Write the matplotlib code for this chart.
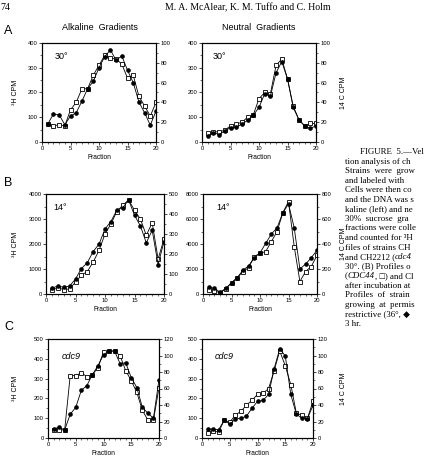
import numpy as np
import matplotlib
matplotlib.use('Agg')
import matplotlib.pyplot as plt
from matplotlib.ticker import AutoMinorLocator, MultipleLocator

plt.rcParams['font.family'] = ['Liberation Sans', 'DejaVu Sans']

fractions = list(range(1, 21))

# panel A, 30 deg (open = CDC44, filled = cdc44)
alk_a_open = [72, 65, 70, 65, 130, 160, 215, 215, 270, 310, 350, 340, 335, 315, 258, 270, 185, 145, 105, 160]
alk_a_fill = [72, 113, 110, 70, 105, 118, 165, 215, 245, 300, 345, 372, 330, 348, 290, 240, 162, 118, 68, 125]
neu_a_open = [35, 42, 40, 48, 65, 72, 80, 100, 110, 175, 200, 195, 310, 335, 255, 145, 90, 65, 75, 75]
neu_a_fill = [25, 38, 30, 45, 58, 60, 72, 88, 108, 140, 195, 185, 280, 325, 255, 140, 90, 65, 55, 65]

# panel B, 14 deg
alk_b_open = [150, 250, 180, 200, 480, 750, 900, 1280, 1750, 2400, 2800, 3300, 3550, 3760, 3350, 3000, 2350, 2850, 1400, 2200]
alk_b_fill = [230, 320, 270, 320, 600, 1020, 1250, 1700, 2000, 2600, 2900, 3350, 3450, 3760, 3150, 2720, 2050, 2550, 1180, 2100]
neu_b_open = [300, 250, 100, 400, 900, 1300, 1800, 2100, 3000, 3250, 3400, 4200, 5000, 6500, 7400, 3800, 1000, 1800, 2200, 3100]
neu_b_fill = [550, 450, 150, 450, 900, 1300, 1900, 2250, 2900, 3300, 4050, 4800, 5300, 6500, 7200, 5300, 2000, 2400, 2900, 3500]

# panel C, cdc9
alk_c_open = [40, 42, 40, 315, 315, 330, 310, 320, 355, 435, 440, 440, 415, 340, 290, 230, 140, 90, 90, 255]
alk_c_fill = [45, 55, 40, 120, 155, 240, 265, 320, 365, 420, 440, 438, 375, 380, 305, 255, 155, 125, 100, 295]
neu_c_open = [25, 35, 30, 90, 80, 115, 135, 165, 190, 220, 225, 250, 340, 440, 365, 270, 125, 115, 100, 185]
neu_c_fill = [45, 45, 42, 90, 70, 95, 100, 110, 150, 185, 190, 220, 350, 450, 415, 220, 120, 100, 98, 165]

caption_lines = [
    'FIGURE  5.—Vel', 'tion analysis of ch', 'Strains  were  grow', 'and labeled with',
    'Cells were then co', 'and the DNA was s', 'kaline (left) and ne', '30%  sucrose  gra',
    'fractions were colle', 'and counted for ³H', 'files of strains CH', 'and CH2212 (|cdc4',
    '30°. (B) Profiles o', '(|CDC44|, □) and Cl', 'after incubation at', 'Profiles  of  strain',
    'growing  at  permis', 'restrictive (36°, ◆', '3 hr.',
]

W, H = 428, 462
fig = plt.figure(figsize=(W / 100, H / 100), dpi=100)


def box(x0, y0, x1, y1):
    return [x0 / W, 1 - y1 / H, (x1 - x0) / W, (y1 - y0) / H]


panels = [
    ((42, 43, 156, 142), alk_a_open, alk_a_fill, 400, 100, 100, 20, '30°', (0.17, 0.86), 'left'),
    ((202, 43, 316, 142), neu_a_open, neu_a_fill, 400, 100, 100, 20, '30°', (0.15, 0.86), 'right'),
    ((46, 194, 164, 294), alk_b_open, alk_b_fill, 4000, 1000, 500, 100, '14°', (0.12, 0.87), 'left'),
    ((203, 194, 317, 294), neu_b_open, neu_b_fill, 8000, 2000, 800, 200, '14°', (0.18, 0.87), 'right'),
    ((48, 339, 159, 438), alk_c_open, alk_c_fill, 500, 100, 120, 20, 'cdc9', (0.21, 0.82), 'left'),
    ((202, 339, 313, 438), neu_c_open, neu_c_fill, 500, 100, 120, 20, 'cdc9', (0.2, 0.82), 'right'),
]

tick_kw = dict(labelsize=4.2, direction='out', width=0.5, pad=1.0)

for px, y_open, y_fill, ymax, ystep, rmax, rstep, tag, tagpos, side in panels:
    ax = fig.add_axes(box(*px))
    ax.plot(fractions, y_open, '-', color='black', lw=0.6, marker='s', ms=3,
            mfc='white', mec='black', mew=0.6, zorder=3)
    ax.plot(fractions, y_fill, '-', color='black', lw=0.6, marker='o', ms=2.3,
            mfc='black', mec='black', zorder=4)
    ax.set_xlim(0, 20)
    ax.set_ylim(0, ymax)
    ax.xaxis.set_major_locator(MultipleLocator(5))
    ax.xaxis.set_minor_locator(MultipleLocator(1))
    ax.yaxis.set_major_locator(MultipleLocator(ystep))
    ax.yaxis.set_minor_locator(AutoMinorLocator(2))
    ax.tick_params(which='major', length=2.2, **tick_kw)
    ax.tick_params(which='minor', length=1.2, width=0.4, direction='out')
    for s in ax.spines.values():
        s.set_linewidth(0.8)
    ax.set_xlabel('Fraction', fontsize=4.8, labelpad=2)
    style = 'italic' if tag == 'cdc9' else 'normal'
    ax.text(tagpos[0], tagpos[1], tag, transform=ax.transAxes, fontsize=6.5,
            ha='center', va='center', fontstyle=style)
    if side == 'left':
        ax.set_ylabel('³H CPM', fontsize=5)
        ax.yaxis.set_label_coords((19 - px[0]) / (px[2] - px[0]), 0.5)

    rax = ax.twinx()
    rax.set_ylim(0, rmax)
    rax.yaxis.set_major_locator(MultipleLocator(rstep))
    rax.yaxis.set_minor_locator(AutoMinorLocator(2))
    rax.tick_params(which='major', length=2.2, **tick_kw)
    rax.tick_params(which='minor', length=1.2, width=0.4, direction='out')
    if side == 'right':
        rax.set_ylabel('14 C CPM', fontsize=5)
        rax.yaxis.set_label_coords((340 - px[0]) / (px[2] - px[0]), 0.5)

# page header, titles and panel letters
fig.text(0 / W, 1 - 8 / H, '74', fontsize=7, family='Liberation Serif', va='center')
fig.text(248 / W, 1 - 8 / H, 'M. A. McAlear, K. M. Tuffo and C. Holm', fontsize=7,
         family='Liberation Serif', ha='center', va='center')
fig.text(100 / W, 1 - 27 / H, 'Alkaline  Gradients', fontsize=6.5, ha='center', va='center')
fig.text(259 / W, 1 - 27 / H, 'Neutral  Gradients', fontsize=6.5, ha='center', va='center')
for letter, ypix in [('A', 31), ('B', 183), ('C', 327)]:
    fig.text(4 / W, 1 - ypix / H, letter, fontsize=9, va='center')

# caption, cut off by the right edge of the page
over = fig.add_axes([0, 0, 1, 1])
over.axis('off')
over.set_xlim(0, W)
over.set_ylim(H, 0)
serif = ['Liberation Serif', 'DejaVu Sans']
for i, line in enumerate(caption_lines):
    y = 152 + i * 9.55
    x0 = 360 if i == 0 else 345
    prev = None
    for j, piece in enumerate(line.split('|')):
        st = 'italic' if j % 2 == 1 else 'normal'
        if prev is None:
            prev = over.text(x0, y, piece, fontsize=6.4, family=serif, fontstyle=st,
                             va='center', ha='left')
        else:
            prev = over.annotate(piece, xy=(1, 0), xycoords=prev, fontsize=6.4,
                                 family=serif, fontstyle=st, va='bottom', ha='left')

fig.savefig('out.png', dpi=100)
